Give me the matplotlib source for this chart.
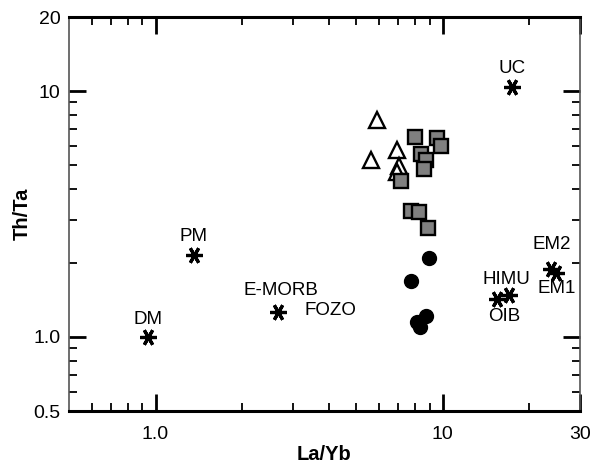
import numpy as np
import matplotlib
matplotlib.use("Agg")
import matplotlib.pyplot as plt
from matplotlib.ticker import FixedLocator, NullFormatter

# end-member compositions (asterisks)
em_names = ["DM", "PM", "E-MORB", "UC", "EM2", "EM1", "HIMU", "OIB"]
em_x = [0.945, 1.36, 2.66, 17.4, 23.8, 24.8, 17.0, 15.4]
em_y = [1.00, 2.15, 1.26, 10.4, 1.89, 1.82, 1.48, 1.43]

# open triangles
tri_x = [5.89, 6.92, 5.61, 7.03, 6.92]
tri_y = [7.62, 5.75, 5.24, 4.96, 4.69]

# gray squares
sq_x = [7.99, 9.53, 9.84, 8.38, 8.72, 8.58, 7.14, 7.73, 8.25, 8.87]
sq_y = [6.50, 6.44, 5.98, 5.54, 5.24, 4.82, 4.31, 3.25, 3.22, 2.77]

# black circles
ci_x = [8.94, 7.73, 8.12, 8.72, 8.32]
ci_y = [2.10, 1.69, 1.15, 1.22, 1.10]

# label positions for the end members (FOZO has no symbol)
lab_names = ["DM", "PM", "E-MORB", "FOZO", "UC", "EM2", "EM1", "HIMU", "OIB"]
lab_x = [0.945, 1.36, 2.73, 4.07, 17.4, 23.9, 24.8, 16.7, 16.3]
lab_y = [1.18, 2.57, 1.54, 1.28, 12.3, 2.37, 1.58, 1.72, 1.21]

plt.rcParams['font.family'] = ['Liberation Sans', 'DejaVu Sans']

fig = plt.figure(figsize=(5.93, 4.70), dpi=100)
ax = fig.add_axes([0.1164, 0.1255, 0.978 - 0.1164, 0.9638 - 0.1255])

ax.set_xscale('log')
ax.set_yscale('log')
ax.set_xlim(0.5, 30)
ax.set_ylim(0.5, 20)

ax.plot(tri_x, tri_y, linestyle='none', marker='^', markersize=11,
        markerfacecolor='white', markeredgecolor='black', markeredgewidth=1.7)
ax.plot(sq_x, sq_y, linestyle='none', marker='s', markersize=10,
        markerfacecolor='#808080', markeredgecolor='black', markeredgewidth=1.7)
ax.plot(ci_x, ci_y, linestyle='none', marker='o', markersize=10,
        markerfacecolor='black', markeredgecolor='black')
ax.plot(em_x, em_y, linestyle='none', marker=(6, 2, 90), markersize=12,
        color='black', markeredgewidth=2.3)

for name, tx, ty in zip(lab_names, lab_x, lab_y):
    ax.text(tx, ty, name, fontsize=13.5, ha='center', va='center')

ax.set_xlabel('La/Yb', fontsize=14.5, fontweight='bold', labelpad=1)
ax.set_ylabel('Th/Ta', fontsize=14.5, fontweight='bold', labelpad=1)

ax.xaxis.set_major_locator(FixedLocator([1, 10, 30]))
ax.xaxis.set_minor_locator(FixedLocator([0.6, 0.7, 0.8, 0.9, 2, 3, 4, 5, 6, 7, 8, 9, 20]))
ax.set_xticklabels(['1.0', '10', '30'])
ax.xaxis.set_minor_formatter(NullFormatter())

ax.yaxis.set_major_locator(FixedLocator([0.5, 1, 10, 20]))
ax.yaxis.set_minor_locator(FixedLocator([0.6, 0.7, 0.8, 0.9, 2, 3, 4, 5, 6, 7, 8, 9]))
ax.set_yticklabels(['0.5', '1.0', '10', '20'])
ax.yaxis.set_minor_formatter(NullFormatter())

ax.tick_params(which='major', direction='in', length=12, width=2,
               labelsize=14, top=True, right=True, pad=6)
ax.tick_params(axis='x', which='major', pad=11)
ax.tick_params(which='minor', direction='in', length=6, width=1.3,
               top=True, right=True)

for s in ['top', 'bottom']:
    ax.spines[s].set_linewidth(2.2)
    ax.spines[s].set_color('black')
for s in ['left', 'right']:
    ax.spines[s].set_linewidth(1.2)
    ax.spines[s].set_color('#555555')

fig.savefig('out.png', dpi=100)
